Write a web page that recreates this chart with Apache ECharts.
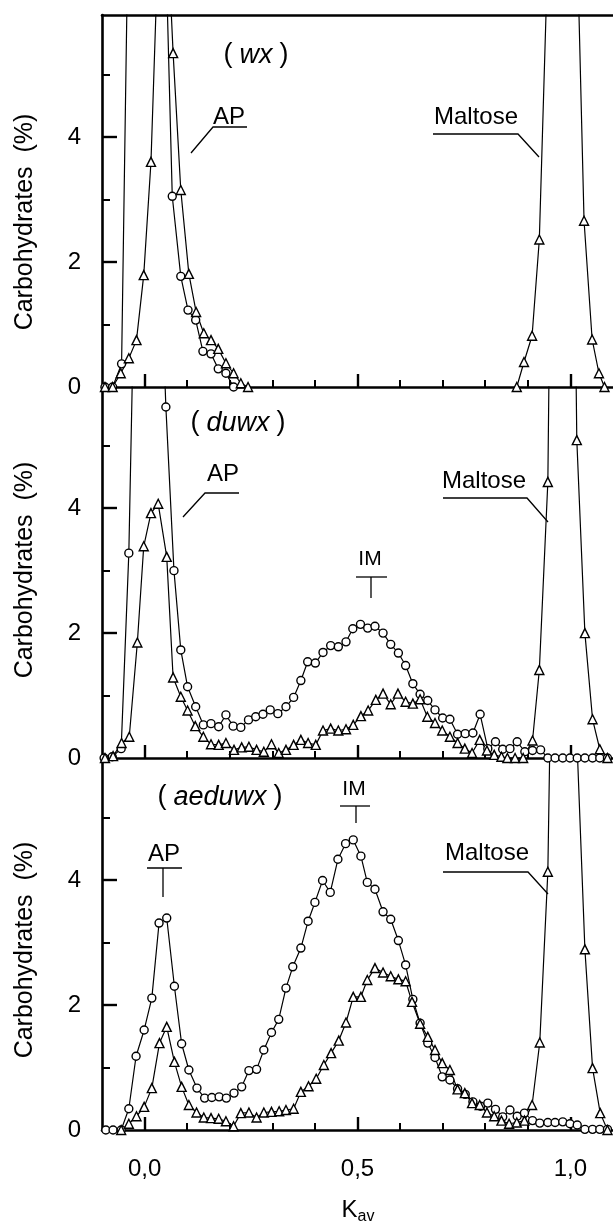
<!DOCTYPE html>
<html>
<head>
<meta charset="utf-8">
<script src="https://cdn.jsdelivr.net/npm/echarts@6/dist/echarts.min.js"></script>
<style>
  html, body { margin: 0; padding: 0; background: #fff; }
  #chart { width: 613px; height: 1228px; }
</style>
</head>
<body>
<div id="chart"></div>
<script>
// ---------------- DATA (Kav, carbohydrates %) ----------------
const panelNames = ['wx', 'duwx', 'aeduwx'];
const xMajorTicks = [0, 0.5, 1.0];
const xMinorTicks = [0.1, 0.2, 0.3, 0.4, 0.6, 0.7, 0.8, 0.9];
const yMajorTicks = [0, 2, 4];
const yMinorTicks = [1, 3, 5];
const yMax = [5.95, 5.94, 5.95];

// Panel (wx)
const wxCircles = [[-0.093,0],[-0.075,0],[-0.054,0.37],[-0.036,8.6],[-0.018,14],[0.0,18],[0.018,17],[0.036,12],[0.049,7.2],[0.065,3.05],[0.085,1.77],[0.102,1.23],[0.120,1.07],[0.137,0.57],[0.156,0.53],[0.173,0.29],[0.191,0.22],[0.209,0]];
const wxTriangles = [[-0.093,0],[-0.075,0],[-0.056,0.22],[-0.037,0.46],[-0.019,0.75],[-0.002,1.79],[0.015,3.6],[0.033,7.3],[0.049,8],[0.067,5.34],[0.085,3.15],[0.104,1.81],[0.121,1.2],[0.139,0.86],[0.156,0.75],[0.173,0.61],[0.191,0.38],[0.209,0.22],[0.226,0.06],[0.243,0]];
const wxMaltose = [[0.874,0],[0.891,0.4],[0.910,0.82],[0.927,2.36],[0.945,6.5],[0.963,15],[0.981,22],[0.998,16],[1.014,7.65],[1.032,2.66],[1.051,0.76],[1.067,0.22],[1.080,0]];

// Panel (duwx)
const duwxCircles = [[-0.095,0],[-0.076,0.02],[-0.055,0.15],[-0.037,3.28],[-0.019,9.4],[0.0,14],[0.016,13],[0.032,9],[0.050,5.62],[0.069,3.0],[0.085,1.73],[0.101,1.14],[0.120,0.82],[0.138,0.53],[0.156,0.55],[0.174,0.50],[0.191,0.69],[0.208,0.51],[0.226,0.49],[0.244,0.61],[0.261,0.66],[0.278,0.70],[0.295,0.77],[0.313,0.71],[0.332,0.82],[0.350,0.97],[0.367,1.24],[0.383,1.54],[0.401,1.52],[0.419,1.69],[0.437,1.80],[0.455,1.78],[0.473,1.86],[0.489,2.07],[0.507,2.14],[0.524,2.08],[0.541,2.11],[0.560,2.0],[0.578,1.82],[0.596,1.68],[0.613,1.48],[0.630,1.19],[0.647,1.02],[0.665,0.92],[0.682,0.77],[0.700,0.64],[0.717,0.62],[0.735,0.38],[0.753,0.39],[0.771,0.40],[0.788,0.70],[0.806,0.15],[0.824,0.26],[0.841,0.14],[0.858,0.15],[0.875,0.26],[0.893,0.10],[0.911,0.12],[0.930,0.13],[0.947,0],[0.964,0],[0.982,0],[0.999,0],[1.016,0],[1.034,0],[1.052,0],[1.069,0],[1.087,0]];
const duwxTriangles = [[-0.093,0],[-0.074,0.03],[-0.054,0.24],[-0.036,0.34],[-0.017,1.85],[-0.002,3.39],[0.015,3.92],[0.032,4.07],[0.052,3.22],[0.067,1.29],[0.085,0.98],[0.101,0.76],[0.119,0.51],[0.138,0.34],[0.156,0.22],[0.174,0.21],[0.191,0.24],[0.210,0.13],[0.228,0.17],[0.245,0.18],[0.263,0.13],[0.280,0.10],[0.298,0.22],[0.315,0.08],[0.332,0.13],[0.350,0.21],[0.367,0.29],[0.384,0.24],[0.402,0.21],[0.419,0.44],[0.437,0.47],[0.455,0.44],[0.473,0.46],[0.490,0.53],[0.508,0.67],[0.525,0.76],[0.543,0.93],[0.560,1.03],[0.578,0.86],[0.595,1.03],[0.613,0.90],[0.630,0.87],[0.647,0.94],[0.664,0.66],[0.682,0.56],[0.699,0.44],[0.717,0.34],[0.735,0.24],[0.752,0.15],[0.769,0.08],[0.787,0.29],[0.804,0.12],[0.821,0.05],[0.838,0.02],[0.852,0],[0.870,0],[0.889,0],[0.911,0.28],[0.927,1.41],[0.947,4.42],[0.965,16],[0.981,24],[0.997,15.8],[1.015,5.09],[1.034,2.0],[1.052,0.62],[1.069,0.14],[1.087,0]];

// Panel (aeduwx)
const aeduwxCircles = [[-0.091,0],[-0.074,0],[-0.055,0],[-0.037,0.34],[-0.020,1.18],[-0.001,1.6],[0.017,2.11],[0.034,3.31],[0.052,3.39],[0.070,2.30],[0.087,1.38],[0.104,0.96],[0.123,0.67],[0.141,0.51],[0.158,0.52],[0.175,0.53],[0.192,0.51],[0.210,0.59],[0.228,0.69],[0.245,0.95],[0.263,0.97],[0.280,1.28],[0.298,1.56],[0.315,1.77],[0.332,2.27],[0.348,2.61],[0.367,2.91],[0.384,3.34],[0.400,3.64],[0.418,3.99],[0.436,3.80],[0.454,4.33],[0.472,4.58],[0.490,4.64],[0.508,4.38],[0.523,3.96],[0.541,3.85],[0.560,3.49],[0.578,3.37],[0.596,3.03],[0.613,2.64],[0.630,2.09],[0.647,1.71],[0.665,1.39],[0.682,1.16],[0.699,0.85],[0.717,0.80],[0.735,0.66],[0.753,0.57],[0.771,0.45],[0.789,0.38],[0.806,0.43],[0.824,0.33],[0.841,0.21],[0.858,0.32],[0.875,0.22],[0.892,0.27],[0.911,0.15],[0.928,0.11],[0.947,0.12],[0.964,0.12],[0.982,0.13],[0.999,0.10],[1.016,0.08],[1.034,0.01],[1.052,0.01],[1.069,0.01],[1.087,0.01]];
const aeduwxTriangles = [[-0.055,0],[-0.037,0.1],[-0.019,0.22],[-0.001,0.37],[0.017,0.67],[0.035,1.39],[0.052,1.65],[0.070,1.09],[0.087,0.69],[0.104,0.40],[0.122,0.28],[0.139,0.2],[0.156,0.19],[0.174,0.18],[0.191,0.14],[0.209,0.06],[0.226,0.27],[0.245,0.28],[0.263,0.2],[0.280,0.28],[0.298,0.29],[0.316,0.30],[0.332,0.32],[0.350,0.34],[0.367,0.61],[0.385,0.70],[0.403,0.82],[0.421,1.04],[0.438,1.23],[0.456,1.43],[0.473,1.72],[0.490,2.13],[0.508,2.13],[0.523,2.40],[0.541,2.59],[0.560,2.52],[0.578,2.46],[0.596,2.41],[0.613,2.38],[0.628,2.05],[0.647,1.70],[0.665,1.49],[0.682,1.28],[0.699,1.07],[0.717,0.96],[0.735,0.65],[0.752,0.59],[0.769,0.43],[0.787,0.40],[0.804,0.28],[0.821,0.22],[0.838,0.15],[0.856,0.10],[0.874,0.12],[0.892,0.15],[0.910,0.4],[0.928,1.40],[0.947,4.13],[0.965,12],[0.982,18],[0.999,14],[1.016,6.1],[1.034,2.89],[1.052,0.99],[1.070,0.27],[1.087,0]];

// ---------------- CHART ----------------
const FONT = '"Liberation Sans", Arial, Helvetica, sans-serif';
const chart = echarts.init(document.getElementById('chart'), null, { renderer: 'canvas' });

const grids = [
  { left: 102, top: 15, width: 518, height: 372 },
  { left: 102, top: 387, width: 518, height: 371 },
  { left: 102, top: 758, width: 518, height: 372 }
];

const xAxes = [], yAxes = [];
const axisIdx = [];
grids.forEach((g, i) => {
  const main = xAxes.length;
  xAxes.push({
    type: 'value', gridIndex: i, min: -0.1, max: 1.1, position: 'bottom',
    axisLine: { show: true, onZero: false, lineStyle: { color: '#000', width: 2.6 } },
    axisTick: { show: true, inside: true, length: 13, customValues: xMajorTicks, lineStyle: { color: '#000', width: 2.4 } },
    axisLabel: { show: i === 2, customValues: xMajorTicks, margin: 27, color: '#000', fontSize: 24, fontFamily: FONT,
      formatter: v => v.toFixed(1).replace('.', ',') },
    splitLine: { show: false }
  });
  xAxes.push({
    type: 'value', gridIndex: i, min: -0.1, max: 1.1, position: 'bottom',
    axisLine: { show: false, onZero: false },
    axisTick: { show: true, inside: true, length: 7, customValues: xMinorTicks, lineStyle: { color: '#000', width: 2 } },
    axisLabel: { show: false }, splitLine: { show: false }
  });
  if (i === 0) {
    xAxes.push({
      type: 'value', gridIndex: 0, min: -0.1, max: 1.1, position: 'top',
      axisLine: { show: true, onZero: false, lineStyle: { color: '#000', width: 2.6 } },
      axisTick: { show: false }, axisLabel: { show: false }, splitLine: { show: false }
    });
  }
  const ym = yAxes.length;
  yAxes.push({
    type: 'value', gridIndex: i, min: 0, max: yMax[i], position: 'left',
    axisLine: { show: true, onZero: false, lineStyle: { color: '#000', width: 2.6 } },
    axisTick: { show: true, inside: true, length: 15, customValues: yMajorTicks, lineStyle: { color: '#000', width: 2.4 } },
    axisLabel: { show: true, customValues: yMajorTicks, margin: 21, color: '#000', fontSize: 24, fontFamily: FONT },
    splitLine: { show: false }
  });
  yAxes.push({
    type: 'value', gridIndex: i, min: 0, max: yMax[i], position: 'left',
    axisLine: { show: false, onZero: false },
    axisTick: { show: true, inside: true, length: 8, customValues: yMinorTicks, lineStyle: { color: '#000', width: 2 } },
    axisLabel: { show: false }, splitLine: { show: false }
  });
  axisIdx.push({ x: main, y: ym });
});

function mkSeries(data, panel, shape) {
  return {
    type: 'line', data: data,
    xAxisIndex: axisIdx[panel].x, yAxisIndex: axisIdx[panel].y,
    symbol: shape, symbolSize: shape === 'circle' ? 8 : 9,
    showAllSymbol: true, clip: true, animation: false, smooth: false,
    lineStyle: { color: '#000', width: 1.2 },
    itemStyle: { color: '#fff', borderColor: '#000', borderWidth: 1.4 },
    emphasis: { disabled: true }, z: 3
  };
}

const series = [
  mkSeries(wxCircles, 0, 'circle'),
  mkSeries(wxTriangles, 0, 'triangle'),
  mkSeries(wxMaltose, 0, 'triangle'),
  mkSeries(duwxCircles, 1, 'circle'),
  mkSeries(duwxTriangles, 1, 'triangle'),
  mkSeries(aeduwxCircles, 2, 'circle'),
  mkSeries(aeduwxTriangles, 2, 'triangle')
];

// ---------------- ANNOTATIONS ----------------
function txt(x, y, text, size, extra) {
  return Object.assign({ type: 'text', x: x, y: y, z: 10,
    style: { text: text, font: size + 'px ' + FONT, fill: '#000', align: 'center', verticalAlign: 'middle' } }, extra || {});
}
function genoLabel(x, y, name) {
  return { type: 'text', x: x, y: y, z: 10,
    style: { text: '{p|(}{g|' + name + '}{p|)}', align: 'center', verticalAlign: 'middle', fill: '#000',
      rich: {
        p: { font: '27px ' + FONT, fill: '#000' },
        g: { font: 'italic 27px ' + FONT, fill: '#000', padding: [0, 7, 0, 7] }
      } } };
}
function poly(points) {
  return { type: 'polyline', z: 10, shape: { points: points }, style: { stroke: '#000', lineWidth: 1.3, fill: null } };
}

const graphics = [
  // y axis titles
  txt(25, 222, 'Carbohydrates  (%)', 25, { rotation: Math.PI / 2 }),
  txt(25, 570, 'Carbohydrates  (%)', 25, { rotation: Math.PI / 2 }),
  txt(25, 950, 'Carbohydrates  (%)', 25, { rotation: Math.PI / 2 }),
  // x axis title
  { type: 'text', x: 358, y: 1210, z: 10,
    style: { text: '{k|K}{s|av}', align: 'center', verticalAlign: 'middle', fill: '#000',
      rich: { k: { font: '24px ' + FONT, fill: '#000' }, s: { font: '16px ' + FONT, fill: '#000', padding: [14, 0, 0, 0] } } } },
  // panel 1
  genoLabel(256, 55, panelNames[0]),
  txt(229, 117, 'AP', 24), poly([[247, 127], [213, 127], [191, 153]]),
  txt(476, 117, 'Maltose', 24), poly([[433, 134], [518, 134], [539, 157]]),
  // panel 2
  genoLabel(238, 423, panelNames[1]),
  txt(223, 474, 'AP', 24), poly([[239, 493], [205, 493], [183, 517]]),
  txt(484, 481, 'Maltose', 24), poly([[443, 498], [527, 498], [548, 522]]),
  txt(370, 559, 'IM', 21), poly([[356, 577], [387, 577]]), poly([[371, 577], [371, 598]]),
  // panel 3
  genoLabel(220, 797, panelNames[2]),
  txt(164, 854, 'AP', 24), poly([[147, 868], [182, 868]]), poly([[163, 868], [163, 897]]),
  txt(354, 789, 'IM', 21), poly([[340, 806], [370, 806]]), poly([[356, 806], [356, 823]]),
  txt(487, 853, 'Maltose', 24), poly([[443, 872], [528, 872], [548, 894]])
];

chart.setOption({
  animation: false,
  backgroundColor: '#fff',
  grid: grids,
  xAxis: xAxes,
  yAxis: yAxes,
  series: series,
  graphic: graphics
});
</script>
</body>
</html>
